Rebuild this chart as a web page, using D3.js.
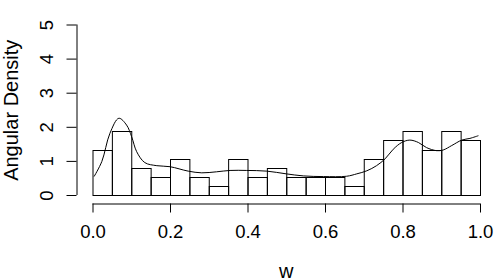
<!DOCTYPE html>
<html><head><meta charset="utf-8">
<script src="https://cdn.jsdelivr.net/npm/d3@7"></script>
<style>body{margin:0;background:#fff}svg{display:block}text{font-family:"Liberation Sans",Arial,sans-serif;fill:#000}</style>
</head><body>
<svg id="c" width="500" height="280"></svg>
<script>
// Histogram bins (lower edges) and densities
const binStarts = [0,0.05,0.1,0.15,0.2,0.25,0.3,0.35,0.4,0.45,0.5,0.55,0.6,0.65,0.7,0.75,0.8,0.85,0.9,0.95];
const binWidth = 0.05;
const binDensity = [1.333,1.867,0.8,0.533,1.067,0.533,0.267,1.067,0.533,0.8,0.533,0.533,0.533,0.267,1.067,1.6,1.867,1.333,1.867,1.6];
// Smoothed density curve
const curveW = [0.004,0.024,0.045,0.068,0.088,0.101,0.114,0.135,0.166,0.2,0.247,0.282,0.32,0.355,0.398,0.45,0.5,0.544,0.596,0.656,0.682,0.708,0.733,0.755,0.776,0.798,0.819,0.841,0.862,0.888,0.905,0.927,0.953,0.974,0.996];
const curveD = [0.54,0.98,1.81,2.25,2.05,1.71,1.27,0.95,0.86,0.83,0.70,0.65,0.68,0.72,0.72,0.70,0.62,0.56,0.54,0.55,0.62,0.71,0.86,1.06,1.34,1.54,1.61,1.54,1.39,1.30,1.32,1.45,1.61,1.66,1.74];
const xTicks = [0,0.2,0.4,0.6,0.8,1.0];
const yTicks = [0,1,2,3,4,5];

const svg = d3.select("#c");
const x = d3.scaleLinear().domain([0,1]).range([92.5,480]);
const y = d3.scaleLinear().domain([0,5]).range([195,24.5]);

// bars
svg.append("g").selectAll("rect").data(binStarts).join("rect")
  .attr("x", d => x(d)+0.5).attr("width", d => x(d+binWidth)-x(d))
  .attr("y", (d,i) => Math.round(y(binDensity[i]))+0.5)
  .attr("height", (d,i) => y(0) - Math.round(y(binDensity[i])))
  .attr("fill","none").attr("stroke","#000").attr("stroke-width",1);

// density line
const pts = curveW.map((w,i)=>[w,curveD[i]]);
svg.append("path").datum(pts)
  .attr("d", d3.line().x(d=>x(d[0])).y(d=>y(d[1])).curve(d3.curveCatmullRom))
  .attr("fill","none").attr("stroke","#000").attr("stroke-width",1);

// x axis
const xa = svg.append("g").attr("transform","translate(0,203.5)")
  .call(d3.axisBottom(x).tickValues(xTicks).tickFormat(d3.format(".1f")).tickSize(9).tickPadding(0));
xa.select(".domain").attr("d", `M${x(0)},0.5H${x(1)}`).attr("stroke","#000");
xa.selectAll(".tick line").attr("stroke","#000");
xa.selectAll(".tick text").attr("y",34.5).attr("dy",null).attr("font-size","18.5px").attr("font-family","Liberation Sans, Arial, sans-serif");

// y axis
const ya = svg.append("g").attr("transform","translate(76.5,0)")
  .call(d3.axisLeft(y).tickValues(yTicks).tickSize(10).tickFormat(d3.format("d")));
ya.select(".domain").attr("d", `M0.5,${y(0)}V${y(5)}`).attr("stroke","#000");
ya.selectAll(".tick line").attr("stroke","#000");
ya.selectAll(".tick text").attr("x",null).attr("dy",null)
  .attr("transform","translate(-23.5,0) rotate(-90)")
  .attr("text-anchor","middle").attr("font-size","18.5px").attr("font-family","Liberation Sans, Arial, sans-serif");

// axis titles
svg.append("text").attr("x", x(0.5)).attr("y", 277.5).attr("text-anchor","middle")
  .attr("font-size","20px").text("w");
svg.append("text").attr("transform",`translate(17.5,${y(2.5)+0.5}) rotate(-90)`)
  .attr("text-anchor","middle").attr("font-size","20px").text("Angular Density");
</script>
</body></html>
